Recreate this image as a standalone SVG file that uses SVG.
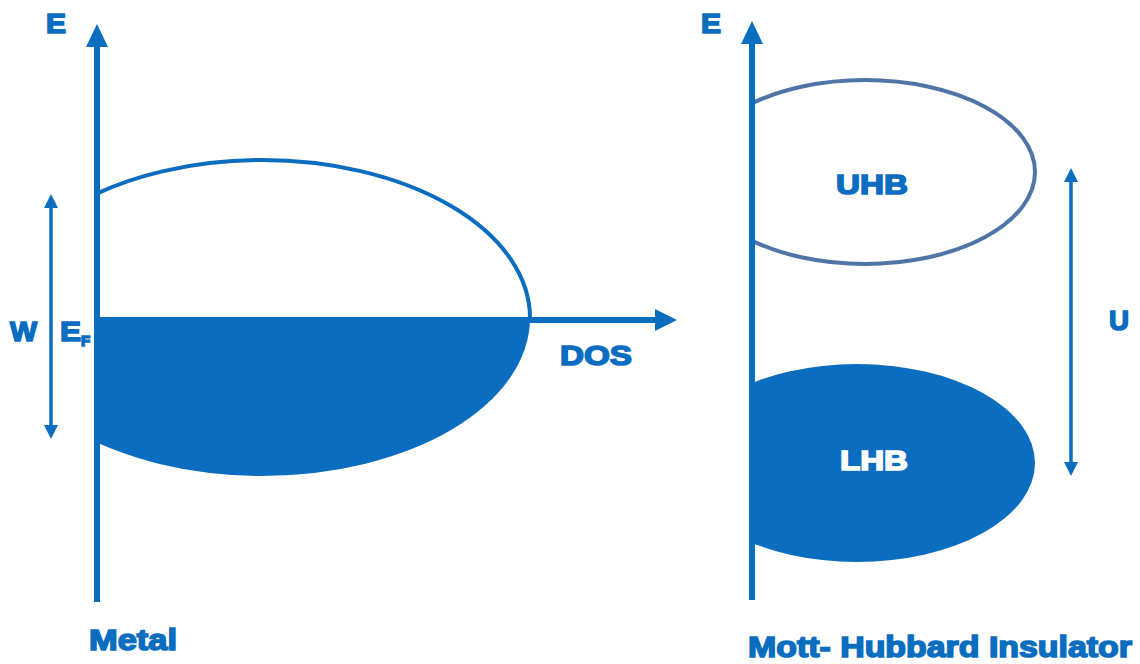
<svg xmlns="http://www.w3.org/2000/svg" width="1140" height="664" viewBox="0 0 1140 664">
  <style>
    .lbl { font-family: "Liberation Sans", Arial, sans-serif; font-weight: bold; fill: #0a6dbf; stroke: #0a6dbf; stroke-width: 1.6; }
    .white { fill: #ffffff; stroke: #ffffff; }
    .axis { stroke: #0a6dbf; stroke-width: 6; fill: none; }
    .dim { stroke: #0a6dbf; stroke-width: 3.5; fill: none; }
    .head { fill: #0a6dbf; }
  </style>
  <defs>
    <clipPath id="metalTop"><rect x="97" y="0" width="500" height="318"/></clipPath>
    <clipPath id="metalBottom"><rect x="97" y="318" width="500" height="300"/></clipPath>
    <clipPath id="rightOfAxis"><rect x="752" y="0" width="388" height="664"/></clipPath>
    <marker id="tip" viewBox="0 0 10 10" refX="5" refY="5" markerWidth="4" markerHeight="4" orient="auto-start-reverse">
      <path d="M0,0 L10,5 L0,10 z" fill="#0a6dbf"/>
    </marker>
  </defs>

  <!-- Metal: density of states -->
  <g id="metal-band">
    <ellipse cx="262" cy="318" rx="268" ry="158" fill="none" stroke="#0a6dbf" stroke-width="4" clip-path="url(#metalTop)"/>
    <ellipse cx="262" cy="318" rx="268" ry="158" fill="#0a6dbf" clip-path="url(#metalBottom)"/>
  </g>

  <!-- Mott-Hubbard bands -->
  <g id="uhb">
    <ellipse cx="865" cy="172" rx="170" ry="92" fill="none" stroke="#4f74a6" stroke-width="4" clip-path="url(#rightOfAxis)"/>
    <text class="lbl" x="836" y="194" font-size="28" textLength="72" lengthAdjust="spacingAndGlyphs">UHB</text>
  </g>
  <g id="lhb">
    <ellipse cx="857" cy="463" rx="178" ry="99" fill="#0a6dbf" clip-path="url(#rightOfAxis)"/>
    <text class="lbl white" x="840" y="470" font-size="28" textLength="68" lengthAdjust="spacingAndGlyphs">LHB</text>
  </g>

  <!-- Axes and dimension arrows -->
  <g id="connectors">
    <line class="axis" x1="97" y1="602" x2="97" y2="44"/>
    <polygon class="head" points="86,47 108,47 97,24"/>
    <line class="axis" x1="97" y1="320" x2="658" y2="320" stroke-width="5"/>
    <polygon class="head" points="655,309 655,331 677,320"/>
    <line class="dim" x1="51" y1="201" x2="51" y2="432" marker-start="url(#tip)" marker-end="url(#tip)"/>

    <line class="axis" x1="752" y1="600" x2="752" y2="42"/>
    <polygon class="head" points="741,44 763,44 752,21"/>
    <line class="dim" x1="1071" y1="175" x2="1071" y2="469" marker-start="url(#tip)" marker-end="url(#tip)"/>
  </g>

  <!-- Labels -->
  <g id="labels">
    <text class="lbl" x="46" y="33" font-size="28" textLength="20" lengthAdjust="spacingAndGlyphs">E</text>
    <text class="lbl" x="10" y="341" font-size="28" textLength="27" lengthAdjust="spacingAndGlyphs">W</text>
    <text class="lbl" x="60" y="341" font-size="28" textLength="21" lengthAdjust="spacingAndGlyphs">E</text>
    <text class="lbl" x="81" y="346" font-size="15">F</text>
    <text class="lbl" x="560" y="365" font-size="28" textLength="72" lengthAdjust="spacingAndGlyphs">DOS</text>
    <text class="lbl" x="89" y="650" font-size="30" textLength="88" lengthAdjust="spacingAndGlyphs">Metal</text>

    <text class="lbl" x="701" y="33" font-size="28" textLength="20" lengthAdjust="spacingAndGlyphs">E</text>
    <text class="lbl" x="1109" y="330" font-size="28" textLength="20" lengthAdjust="spacingAndGlyphs">U</text>
    <text class="lbl" x="748" y="657" font-size="30" textLength="384" lengthAdjust="spacingAndGlyphs">Mott- Hubbard Insulator</text>
  </g>
</svg>
